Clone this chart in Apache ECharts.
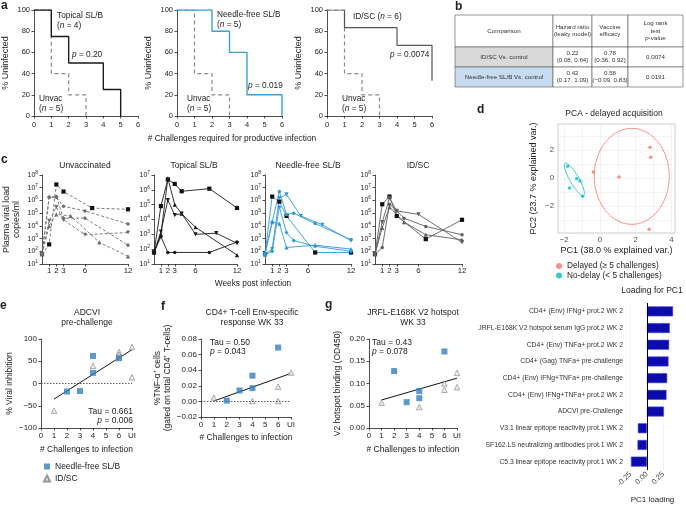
<!DOCTYPE html>
<html>
<head>
<meta charset="utf-8">
<script src="https://cdn.jsdelivr.net/npm/echarts@6/dist/echarts.min.js"></script>
<style>
html, body { margin: 0; padding: 0; background: #fff; }
#chart { width: 686px; height: 506px; }
</style>
</head>
<body>
<div id="chart"></div>
<script>
var FONT = '"Liberation Sans", Arial, sans-serif';
var INK = '#222';

// a: Kaplan-Meier steps (challenge #, % uninfected)
var kmUnvacX = [0, 1, 2, 3];
var kmUnvacY = [100, 40, 20, 0];
var kmTopicalX = [0, 1, 2, 4, 5];
var kmTopicalY = [100, 75, 50, 25, 0];
var kmNeedleX = [0, 2, 3, 4, 6];
var kmNeedleY = [100, 80, 60, 20, 0];
var kmIdscX = [0, 1, 4, 6];
var kmIdscY = [100, 83.3, 66.7, 33.3];

// b: table
var tableHead = ['Comparison', 'Hazard ratio\n(leaky model)', 'Vaccine\nefficacy', 'Log rank\ntest\n{i|p}-value'];
var tableRows = [
    ['ID/SC Vs. control', '0.22\n(0.08, 0.64)', '0.78\n(0.36, 0.92)', '0.0074'],
    ['Needle-free SL/B Vs. control', '0.42\n(0.17, 1.09)', '0.58\n(\u22120.09, 0.83)', '0.0191']
];

// c: plasma viral load per animal (weeks, copies/ml)
var unvacWeeks = [[0, 1, 2, 3, 7, 12], [0, 1, 2, 3, 6, 12], [0, 1, 2, 3, 6, 12], [0, 1, 2, 4, 8, 12], [0, 1, 2, 3, 6, 12]];
var unvacLoads = [
    [60, 350, 1.8e7, 5e6, 2.5e5, 2e5],
    [60, 1.8e6, 1.8e6, 3.5e5, 1.5e5, 1.4e4],
    [60, 2.5e4, 3e5, 3e4, 2e3, 3e3],
    [60, 1e4, 8e4, 6e4, 500, 40],
    [60, 1.8e6, 2e6, 4e4, 4e4, 300]
];
var topicalWeeks = [[0, 1, 2, 3, 4, 8, 12], [0, 1, 2, 3, 8, 12], [0, 1, 2, 3, 4, 6, 9, 12], [0, 1, 2, 3, 4, 6, 12]];
var topicalLoads = [
    [60, 8e4, 5e6, 2.5e6, 8e5, 1.2e6, 6e4],
    [60, 700, 60, 60, 60, 300],
    [60, 1500, 2e5, 2e4, 2.5e4, 1000, 1200, 250],
    [60, 1000, 6e6, 1e5, 2.5e4, 3000, 40]
];
var needleWeeks = [[0, 1, 2, 3, 7, 12], [0, 1, 2, 3, 4, 7, 12], [0, 1, 2, 3, 5, 8, 12], [0, 1, 2, 3, 7, 12], [0, 1, 2, 3, 4, 7, 12]];
var needleLoads = [
    [60, 2e6, 8e5, 6e4, 80, 80],
    [60, 2e4, 5e6, 8e4, 1e5, 1.5e4, 800],
    [60, 150, 1.5e6, 3e6, 6e4, 1.2e4, 700],
    [60, 2e4, 1.5e4, 200, 300, 150],
    [50, 100, 3e5, 3e3, 700, 250, 100]
];
var idscWeeks = [[0, 1, 2, 3, 7, 12], [0, 1, 2, 3, 4, 7, 12], [0, 1, 2, 3, 6, 12], [0, 1, 2, 4, 7, 12]];
var idscLoads = [
    [60, 5e5, 2e6, 6e4, 900, 3e4],
    [60, 200, 5e5, 1.5e5, 4e4, 9e3, 2e3],
    [60, 2e4, 1.5e6, 1.5e5, 8e4, 500],
    [60, 7e3, 3e5, 2e4, 2e3, 800]
];
var weekTicks = [1, 2, 3, 6, 12];

// d: PCA scores
var pcaDelayedX = [2.8, 2.84, -0.37, 1.07, 2.75];
var pcaDelayedY = [2.19, 1.49, 0.43, 0.07, -3.66];
var pcaNodelayX = [-1.81, -1.7, -1.31, -1.12, -0.97];
var pcaNodelayY = [0.84, -0.72, -0.05, -0.22, -1.3];
// ellipse: centre x, centre y, axis-1 vector, axis-2 vector
var ellipseDelayed = [1.78, 0.12, 2.1, 0, 0, 3.43];
var ellipseNodelay = [-1.43, -0.1, 0.515, -1.15, 0.22, 0.16];

// e, f, g: correlations
var chalLabels = ['0', '1', '2', '3', '4', '5', '6', 'UI'];
var adcviNeedleX = [2, 3, 4, 4, 6];
var adcviNeedleY = [-18, -17, 62, 24, 57];
var adcviIdscX = [1, 4, 6, 6, 7, 7];
var adcviIdscY = [-61, 40, 71, 65, 82, 14];
var adcviFitX = [1, 7];
var adcviFitY = [-35, 76];
var tnfNeedleX = [2, 3, 4, 4, 6];
var tnfNeedleY = [0.001, 0.014, 0.017, 0.033, 0.069];
var tnfIdscX = [1, 4, 6, 6, 7];
var tnfIdscY = [0.005, 0.0005, 0.019, 0.0005, 0.037];
var tnfFitX = [1, 7];
var tnfFitY = [0.0005, 0.036];
var v2NeedleX = [2, 3, 4, 4, 6];
var v2NeedleY = [0.128, 0.058, 0.083, 0.067, 0.172];
var v2IdscX = [1, 4, 6, 6, 7, 7];
var v2IdscY = [0.057, 0.047, 0.100, 0.086, 0.124, 0.092];
var v2FitX = [1, 7];
var v2FitY = [0.063, 0.112];

// h: loadings for PC1
var loadingNames = [
    'CD4+ (Env) IFNg+ prot.2 WK 2',
    'JRFL-E168K V2 hotspot serum IgG prot.2 WK 2',
    'CD4+ (Env) TNFa+ prot.2 WK 2',
    'CD4+ (Gag) TNFa+ pre-challenge',
    'CD4+ (Env) IFNg+TNFa+ pre-challenge',
    'CD4+ (Env) IFNg+TNFa+ prot.2 WK 2',
    'ADCVI pre-Challenge',
    'V3.1 linear epitope reactivity prot.1 WK 2',
    'SF162.LS neutralizing antibodies prot.1 WK 2',
    'C5.3 linear epitope reactivity prot.1 WK 2'
];
var loadingValues = [0.40, 0.35, 0.34, 0.33, 0.31, 0.30, 0.26, -0.14, -0.145, -0.245];

var markerShapes = ['rect', 'circle', 'triangle', 'triangle', 'diamond'];
var markerRotate = [0, 0, 180, 0, 0];

function pair(xs, ys) {
    return xs.map(function(x, i) { return [x, ys[i]]; });
}
function minus(v) {
    return String(v).replace('-', '\u2212');
}

var grids = [
    { left: 33, top: 10, width: 105, height: 106 },
    { left: 177, top: 10, width: 105, height: 106 },
    { left: 327, top: 10, width: 105, height: 106 },
    { left: 42, top: 175, width: 86, height: 89 },
    { left: 154, top: 175, width: 83, height: 89 },
    { left: 265, top: 175, width: 86, height: 89 },
    { left: 375, top: 175, width: 87, height: 89 },
    { left: 558, top: 124, width: 117, height: 109, show: true, borderColor: '#a8a8a8', borderWidth: 0.6 },
    { left: 41, top: 339, width: 91, height: 89 },
    { left: 201, top: 339, width: 90, height: 78 },
    { left: 369, top: 339, width: 88, height: 89 },
    { left: 628, top: 303, width: 49, height: 167 }
];

function axis(gi, extra) {
    var ax = {
        gridIndex: gi,
        axisLine: { onZero: false, lineStyle: { color: INK, width: 0.8 } },
        axisTick: { length: 2.5, lineStyle: { color: INK, width: 0.8 } },
        axisLabel: { fontSize: 7.5, color: INK, margin: 4, fontFamily: FONT },
        splitLine: { show: false },
        nameTextStyle: { fontSize: 8.5, color: INK, fontFamily: FONT }
    };
    return echarts.util.merge(ax, extra || {}, true);
}

var xAxes = [], yAxes = [], series = [];

// a
for (var i = 0; i < 3; i++) {
    xAxes.push(axis(i, { type: 'value', min: 0, max: 6, interval: 1, axisLabel: { margin: 5 } }));
    yAxes.push(axis(i, { type: 'value', min: 0, max: 100, interval: 20, name: '% Uninfected', nameLocation: 'middle', nameGap: 24, nameTextStyle: { fontSize: 9 } }));
    series.push({ type: 'line', xAxisIndex: i, yAxisIndex: i, step: 'end', symbol: 'none', data: pair(kmUnvacX, kmUnvacY), lineStyle: { color: '#8a8a8a', width: 1.2, type: [4, 3] } });
}
series.push({ type: 'line', xAxisIndex: 0, yAxisIndex: 0, step: 'end', symbol: 'none', data: pair(kmTopicalX, kmTopicalY), lineStyle: { color: '#1a1a1a', width: 1.4 } });
series.push({ type: 'line', xAxisIndex: 1, yAxisIndex: 1, step: 'end', symbol: 'none', data: pair(kmNeedleX, kmNeedleY), lineStyle: { color: '#3a9fdb', width: 1.4 } });
series.push({ type: 'line', xAxisIndex: 2, yAxisIndex: 2, step: 'end', symbol: 'none', data: pair(kmIdscX, kmIdscY), lineStyle: { color: '#555', width: 1.2 } });

// c
var logLabel = {
    margin: 4,
    formatter: function(v) { return '{b|10}{s|' + Math.round(Math.log10(v)) + '}'; },
    rich: {
        b: { fontSize: 7, lineHeight: 10, fontFamily: FONT, color: INK },
        s: { fontSize: 4.8, lineHeight: 5, verticalAlign: 'top', fontFamily: FONT, color: INK }
    }
};
[3, 4, 5, 6].forEach(function(gi) {
    xAxes.push(axis(gi, { type: 'value', min: 0, max: 12, axisLabel: { customValues: weekTicks, fontSize: 7.8, margin: 3 }, axisTick: { customValues: weekTicks } }));
    var y = axis(gi, { type: 'log', logBase: 10, min: 10, max: gi === 4 ? 1e7 : 1e8, splitNumber: 7, axisLabel: logLabel });
    if (gi === 3) {
        y.name = 'Plasma viral load\ncopies/ml';
        y.nameLocation = 'middle';
        y.nameGap = 20;
        y.nameTextStyle = { fontSize: 8.8, color: INK, fontFamily: FONT, lineHeight: 10.5 };
    }
    yAxes.push(y);
});
function loadSeries(gi, weeks, loads, color, dash) {
    weeks.forEach(function(w, k) {
        series.push({
            type: 'line', xAxisIndex: gi, yAxisIndex: gi,
            data: pair(w, loads[k]),
            symbol: markerShapes[k], symbolRotate: markerRotate[k], symbolSize: k === 1 ? 3.5 : 4.2,
            lineStyle: { color: color, width: 0.9, type: dash },
            itemStyle: { color: k === 0 ? '#111' : color }
        });
    });
}
loadSeries(3, unvacWeeks, unvacLoads, '#6e6e6e', [3, 2]);
loadSeries(4, topicalWeeks, topicalLoads, '#1a1a1a', 'solid');
loadSeries(5, needleWeeks, needleLoads, '#2f9ad8', 'solid');
loadSeries(6, idscWeeks, idscLoads, '#5e5e5e', 'solid');

// d
var ggGray = '#4d4d4d';
xAxes.push(axis(7, {
    type: 'value', min: -2.35, max: 4.2,
    axisLine: { show: false },
    axisTick: { show: false, customValues: [-2, -1, 0, 1, 2, 3, 4] },
    axisLabel: { customValues: [-2, 0, 2, 4], color: ggGray, fontSize: 7.8, margin: 3, formatter: minus },
    splitLine: { show: true, lineStyle: { color: '#ebebeb', width: 0.6 } },
    name: 'PC1 (38.0 % explained var.)', nameLocation: 'middle', nameGap: 13, nameTextStyle: { fontSize: 9 }
}));
yAxes.push(axis(7, {
    type: 'value', min: -3.93, max: 3.86,
    axisLine: { show: false },
    axisTick: { show: false, customValues: [-3, -2, -1, 0, 1, 2, 3] },
    axisLabel: { customValues: [-2, 0, 2], color: ggGray, fontSize: 7.8, margin: 4, formatter: minus },
    splitLine: { show: true, lineStyle: { color: '#ebebeb', width: 0.6 } },
    name: 'PC2 (23.7 % explained var.)', nameLocation: 'middle', nameGap: 20, nameTextStyle: { fontSize: 9 }
}));
function ellipseItem(params, api) {
    var p = [0, 1, 2, 3, 4, 5].map(function(d) { return api.value(d); });
    var pts = [];
    for (var k = 0; k < 72; k++) {
        var t = k / 72 * Math.PI * 2;
        pts.push(api.coord([p[0] + Math.cos(t) * p[2] + Math.sin(t) * p[4], p[1] + Math.cos(t) * p[3] + Math.sin(t) * p[5]]));
    }
    return { type: 'polygon', shape: { points: pts }, style: { fill: 'none', stroke: api.visual('color'), lineWidth: 0.8 } };
}
series.push({ type: 'custom', xAxisIndex: 7, yAxisIndex: 7, silent: true, renderItem: ellipseItem, data: [ellipseDelayed], itemStyle: { color: '#F8766D' } });
series.push({ type: 'custom', xAxisIndex: 7, yAxisIndex: 7, silent: true, renderItem: ellipseItem, data: [ellipseNodelay], itemStyle: { color: '#00BFC4' } });
series.push({ name: 'Delayed (\u2265 5 challenges)', type: 'scatter', xAxisIndex: 7, yAxisIndex: 7, symbolSize: 3.5, data: pair(pcaDelayedX, pcaDelayedY), itemStyle: { color: '#F8766D' } });
series.push({ name: 'No-delay (< 5 challenges)', type: 'scatter', xAxisIndex: 7, yAxisIndex: 7, symbolSize: 3.5, data: pair(pcaNodelayX, pcaNodelayY), itemStyle: { color: '#00BFC4' } });

// e, f, g
function chalAxis(gap) {
    return { type: 'value', min: 0, max: 7, interval: 1, axisLabel: { fontSize: 8, formatter: function(v) { return chalLabels[v]; } }, name: '# Challenges to infection', nameLocation: 'middle', nameGap: gap };
}
xAxes.push(axis(8, chalAxis(17)));
xAxes.push(axis(9, chalAxis(16.5)));
xAxes.push(axis(10, chalAxis(17)));
yAxes.push(axis(8, { type: 'value', min: -100, max: 100, interval: 50, axisLabel: { fontSize: 8, formatter: minus }, name: '% Viral inhibition', nameLocation: 'middle', nameGap: 27 }));
yAxes.push(axis(9, { type: 'value', min: -0.02, max: 0.08, interval: 0.02, axisLabel: { fontSize: 8, formatter: function(v) { return minus(v.toFixed(2)); } }, name: '%TNF-\u03b1\u207a cells\n(gated on total CD4\u207a T-cells)', nameLocation: 'middle', nameGap: 19, nameTextStyle: { lineHeight: 10 } }));
yAxes.push(axis(10, { type: 'value', min: 0, max: 0.2, interval: 0.05, axisLabel: { fontSize: 8, formatter: function(v) { return v.toFixed(2); } }, name: 'V2 hotspot binding (OD450)', nameLocation: 'middle', nameGap: 27 }));

function corrSeries(gi, nx, ny, ix, iy, fx, fy, zeroLine) {
    var fit = { type: 'line', xAxisIndex: gi, yAxisIndex: gi, symbol: 'none', data: pair(fx, fy), lineStyle: { color: '#111', width: 1 }, z: 3 };
    if (zeroLine) {
        fit.markLine = { silent: true, symbol: 'none', label: { show: false }, lineStyle: { type: [1.5, 1.5], color: '#333', width: 0.8 }, data: [{ yAxis: 0 }] };
    }
    series.push(fit);
    series.push({ name: 'ID/SC', type: 'scatter', xAxisIndex: gi, yAxisIndex: gi, symbol: 'triangle', symbolSize: 5.5, data: pair(ix, iy), itemStyle: { color: '#e8e8e8', borderColor: '#808080', borderWidth: 0.8 }, z: 4 });
    series.push({ name: 'Needle-free SL/B', type: 'scatter', xAxisIndex: gi, yAxisIndex: gi, symbol: 'rect', symbolSize: 6, data: pair(nx, ny), itemStyle: { color: '#2f7fc4' }, z: 5 });
}
corrSeries(8, adcviNeedleX, adcviNeedleY, adcviIdscX, adcviIdscY, adcviFitX, adcviFitY, true);
corrSeries(9, tnfNeedleX, tnfNeedleY, tnfIdscX, tnfIdscY, tnfFitX, tnfFitY, true);
corrSeries(10, v2NeedleX, v2NeedleY, v2IdscX, v2IdscY, v2FitX, v2FitY, false);

// h
xAxes.push(axis(11, {
    type: 'value', min: -0.29, max: 0.46,
    axisLine: { show: false },
    axisTick: { customValues: [-0.25, 0, 0.25], length: 2, lineStyle: { color: '#333' } },
    axisLabel: { customValues: [-0.25, 0, 0.25], rotate: 45, fontSize: 7.5, color: ggGray, margin: 3, formatter: function(v) { return v.toFixed(2); } },
    splitLine: { show: true, lineStyle: { color: '#ececec', width: 0.6 } },
    name: 'PC1 loading', nameLocation: 'middle', nameGap: 26, nameTextStyle: { fontSize: 8 }
}));
yAxes.push(axis(11, {
    type: 'category', inverse: true, data: loadingNames,
    axisLine: { show: false }, axisTick: { show: false },
    axisLabel: { fontSize: 6.8, color: '#333', margin: 5 }
}));
series.push({
    type: 'bar', xAxisIndex: 11, yAxisIndex: 11, data: loadingValues, barWidth: 10,
    itemStyle: { color: '#0c0cae', borderColor: '#4b4bd8', borderWidth: 0.6 },
    markLine: { silent: true, symbol: 'none', label: { show: false }, lineStyle: { type: 'solid', color: '#000', width: 1 }, data: [{ xAxis: 0 }] }
});

// text
function txt(x, y, text, o) {
    o = o || {};
    var size = o.size || 8.3;
    return {
        type: 'text', x: x, y: y, silent: true,
        style: {
            text: text, fontFamily: FONT, fontSize: size, fontWeight: o.weight || 'normal',
            fill: o.color || INK, align: o.align || 'left', verticalAlign: o.va || 'middle',
            lineHeight: o.lh, rich: { i: { fontStyle: 'italic', fontFamily: FONT, fontSize: size, fill: o.color || INK } }
        }
    };
}
var graphics = [
    txt(1, 0, 'a', { size: 12, weight: 'bold', va: 'top' }),
    txt(455, 1, 'b', { size: 12, weight: 'bold', va: 'top' }),
    txt(1, 154, 'c', { size: 12, weight: 'bold', va: 'top' }),
    txt(477, 104, 'd', { size: 12, weight: 'bold', va: 'top' }),
    txt(0, 300, 'e', { size: 12, weight: 'bold', va: 'top' }),
    txt(161, 301, 'f', { size: 12, weight: 'bold', va: 'top' }),
    txt(325, 299, 'g', { size: 12, weight: 'bold', va: 'top' }),

    txt(57, 16, 'Topical SL/B'),
    txt(57, 26, '({i|n} = 4)'),
    txt(72, 55, '{i|p} = 0.20'),
    txt(39, 99, 'Unvac'),
    txt(39, 109, '({i|n} = 5)'),
    txt(217, 15, 'Needle-free SL/B'),
    txt(217, 25, '({i|n} = 5)'),
    txt(248, 86, '{i|p} = 0.019'),
    txt(187, 99, 'Unvac'),
    txt(187, 109, '({i|n} = 5)'),
    txt(353, 17, 'ID/SC ({i|n} = 6)'),
    txt(390, 55, '{i|p} = 0.0074'),
    txt(342, 99, 'Unvac'),
    txt(342, 109, '({i|n} = 5)'),
    txt(232, 139, '# Challenges required for productive infection', { align: 'center', size: 8.4 }),

    txt(85, 166, 'Unvaccinated', { align: 'center', size: 8.5 }),
    txt(194, 166, 'Topical SL/B', { align: 'center', size: 8.5 }),
    txt(308, 166, 'Needle-free SL/B', { align: 'center', size: 8.5 }),
    txt(418, 166, 'ID/SC', { align: 'center', size: 8.5 }),
    txt(253, 284, 'Weeks post infection', { align: 'center' }),

    txt(614, 114, 'PCA - delayed acquisition', { align: 'center', size: 8.5 }),
    txt(652, 291, 'Loading for PC1', { align: 'center', size: 8.5 }),

    txt(87, 313, 'ADCVI', { align: 'center', size: 8.5 }),
    txt(87, 323, 'pre-challenge', { align: 'center', size: 8.5 }),
    txt(133, 412, 'Tau = 0.661', { align: 'right', size: 8.5 }),
    txt(133, 421, '{i|p} = 0.006', { align: 'right', size: 8.5 }),
    txt(252, 313, 'CD4+ T-cell Env-specific', { align: 'center', size: 8.5 }),
    txt(252, 323, 'response WK 33', { align: 'center', size: 8.5 }),
    txt(210, 343, 'Tau = 0.50', { size: 8.5 }),
    txt(210, 352, '{i|p} = 0.043', { size: 8.5 }),
    txt(413, 313, 'JRFL-E168K V2 hotspot', { align: 'center', size: 8.5 }),
    txt(413, 323, 'WK 33', { align: 'center', size: 8.5 }),
    txt(372, 343, 'Tau = 0.43', { size: 8.5 }),
    txt(372, 352, '{i|p} = 0.078', { size: 8.5 })
];

// b: table cells
var colX = [455, 553, 592, 628, 683];
var rowY = [15, 47, 67, 87];
var firstCellFill = ['#ffffff', '#d9d9d9', '#c6dbef'];
[tableHead].concat(tableRows).forEach(function(row, r) {
    row.forEach(function(cell, c) {
        graphics.push({
            type: 'rect', silent: true,
            shape: { x: colX[c], y: rowY[r], width: colX[c + 1] - colX[c], height: rowY[r + 1] - rowY[r] },
            style: { fill: c === 0 ? firstCellFill[r] : '#ffffff', stroke: '#555', lineWidth: 0.6 }
        });
        graphics.push(txt((colX[c] + colX[c + 1]) / 2, (rowY[r] + rowY[r + 1]) / 2, cell, { align: 'center', size: 6.2, lh: 7.5, color: '#333' }));
    });
});

var option = {
    animation: false,
    textStyle: { fontFamily: FONT },
    grid: grids,
    xAxis: xAxes,
    yAxis: yAxes,
    series: series,
    legend: [{
        left: 43, top: 462, padding: 0, orient: 'vertical', itemWidth: 6, itemHeight: 6, itemGap: 3, selectedMode: false,
        textStyle: { fontSize: 8.5, color: INK, fontFamily: FONT },
        data: [{ name: 'Needle-free SL/B', icon: 'rect' }, { name: 'ID/SC', icon: 'triangle' }]
    }, {
        left: 556, top: 262, padding: 0, orient: 'vertical', itemWidth: 6, itemHeight: 6, itemGap: 1.5, selectedMode: false,
        textStyle: { fontSize: 8.3, color: INK, fontFamily: FONT },
        data: [{ name: 'Delayed (\u2265 5 challenges)', icon: 'circle' }, { name: 'No-delay (< 5 challenges)', icon: 'circle' }]
    }],
    graphic: graphics
};

var chart = echarts.init(document.getElementById('chart'));
chart.setOption(option);
</script>
</body>
</html>
